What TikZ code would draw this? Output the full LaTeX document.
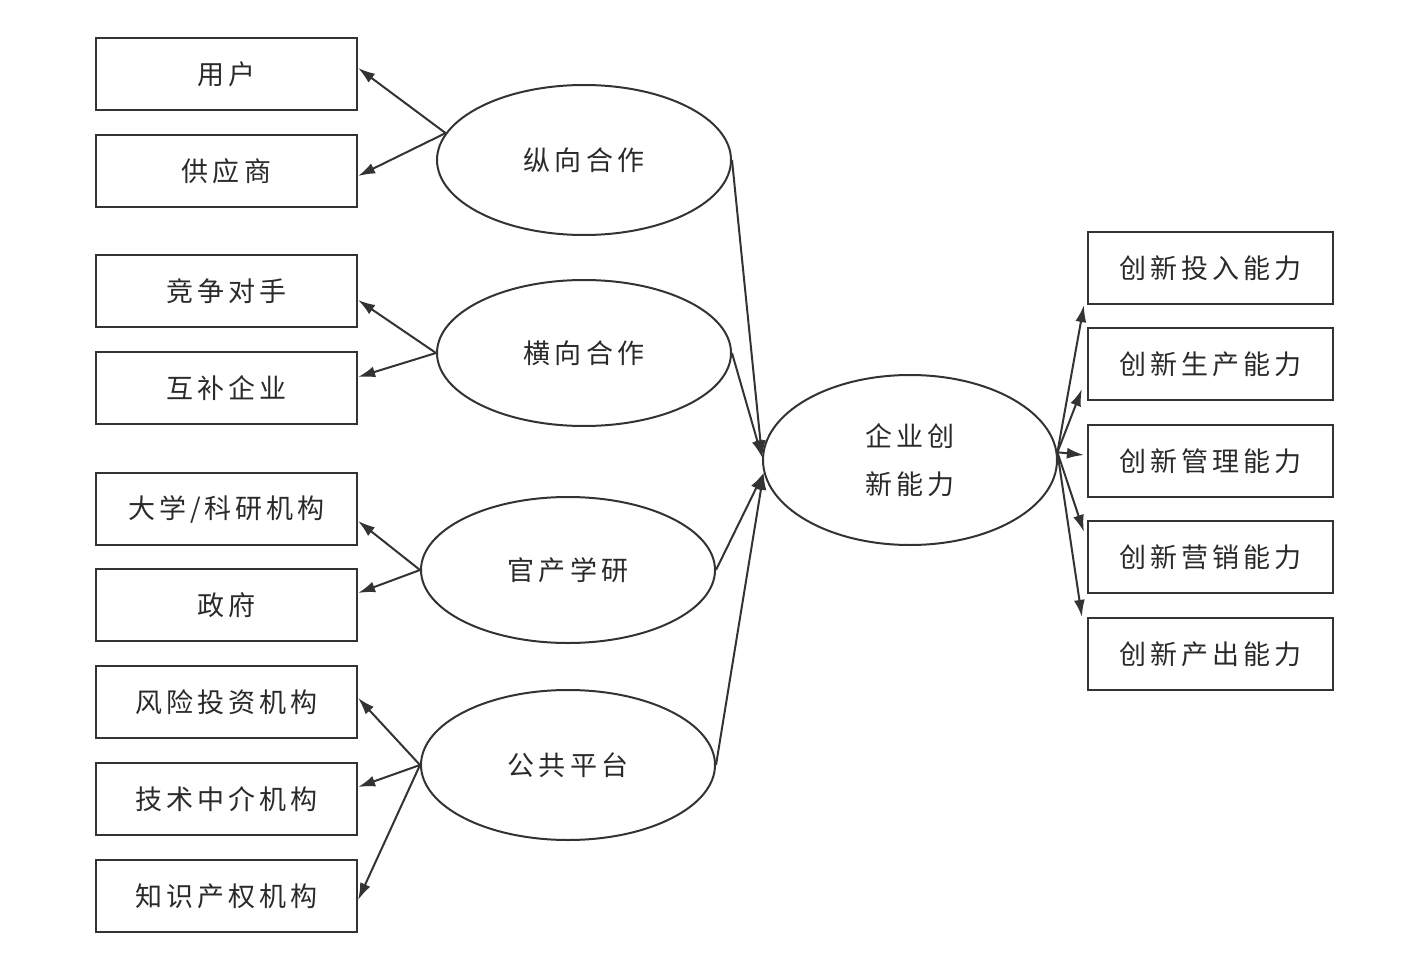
\documentclass[tikz,border=0pt]{standalone}
\usepackage{fontspec}
\newfontfamily\cjk[LetterSpace=15]{Noto Sans CJK SC}
\usetikzlibrary{shapes.geometric,arrows.meta,positioning}
\definecolor{trazo}{HTML}{333333}
\definecolor{letra}{HTML}{2A2A2A}

\begin{document}
\begin{tikzpicture}[x=1pt,y=-1pt,
  caja/.style={draw=trazo,line width=2.2pt,minimum width=261pt,minimum height=72pt,inner sep=0pt},
  cajader/.style={caja,minimum width=245pt},
  ovalo/.style={draw=trazo,line width=2pt,ellipse,minimum width=294pt,minimum height=148pt,inner sep=0pt},
  flecha/.style={draw=trazo,line width=2pt,-{Latex[length=17pt,width=11pt]}},
  font=\cjk\fontsize{27}{48}\selectfont,text=letra]
\useasboundingbox (0,0) rectangle (1407,968);

% actores externos
\node[caja] (yonghu) at (226.5,74) {用户};
\node[caja] (gongying) at (226.5,171) {供应商};
\node[caja] (jingzheng) at (226.5,291) {竞争对手};
\node[caja] (hubu) at (226.5,388) {互补企业};
\node[caja] (daxue) at (226.5,509) {大学/科研机构};
\node[caja] (zhengfu) at (226.5,605) {政府};
\node[caja] (fengxian) at (226.5,702) {风险投资机构};
\node[caja] (jishu) at (226.5,799) {技术中介机构};
\node[caja] (zhishi) at (226.5,896) {知识产权机构};

% tipos de cooperacion
\node[ovalo,minimum height=150pt] (zongxiang) at (584,160) {纵向合作};
\node[ovalo,minimum height=146pt] (hengxiang) at (584,353) {横向合作};
\node[ovalo,minimum height=146pt] (guanchan) at (568,570) {官产学研};
\node[ovalo,minimum height=150pt] (gonggong) at (568,765) {公共平台};

\node[ovalo,minimum height=170pt,align=center] (innov) at (910,460) {企业创\\新能力};

% capacidades
\node[cajader] (touru) at (1210.5,268) {创新投入能力};
\node[cajader] (shengchan) at (1210.5,364) {创新生产能力};
\node[cajader] (guanli) at (1210.5,461) {创新管理能力};
\node[cajader] (yingxiao) at (1210.5,557) {创新营销能力};
\node[cajader] (chanchu) at (1210.5,654) {创新产出能力};

\draw[flecha] (zongxiang.169) -- ([yshift=6pt]yonghu.east);
\draw[flecha] (zongxiang.169) -- ([yshift=-5pt]gongying.east);
\draw[flecha] (hengxiang.west) -- ([yshift=-9pt]jingzheng.east);
\draw[flecha] (hengxiang.west) -- ([yshift=11pt]hubu.east);
\draw[flecha] (guanchan.west) -- ([yshift=-12pt]daxue.east);
\draw[flecha] (guanchan.west) -- ([yshift=12pt]zhengfu.east);
\draw[flecha] (gonggong.west) -- ([yshift=4pt]fengxian.east);
\draw[flecha] (gonggong.west) -- ([yshift=12pt]jishu.east);
\draw[flecha] (gonggong.west) -- ([yshift=-4pt]zhishi.east);

\draw[flecha] (zongxiang.east) -- (innov.179);
\draw[flecha] (hengxiang.east) -- (innov.179);
\draw[flecha] (guanchan.east) -- (innov.185);
\draw[flecha] (gonggong.east) -- (innov.185);

\draw[flecha] (innov.3) -- ([xshift=-3pt]touru.south west);
\draw[flecha] (innov.3) -- ([xshift=-5pt,yshift=12pt]shengchan.south west);
\draw[flecha] (innov.3) -- ([xshift=-3pt,yshift=6pt]guanli.west);
\draw[flecha] (innov.3) -- ([xshift=-3pt,yshift=-12pt]yingxiao.north west);
\draw[flecha] (innov.3) -- ([xshift=-5pt]chanchu.north west);
\end{tikzpicture}
\end{document}
